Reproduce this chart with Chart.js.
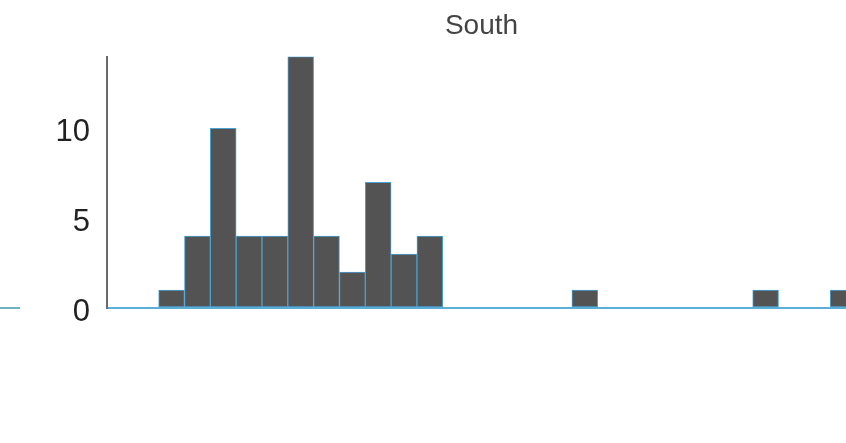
<!DOCTYPE html>
<html lang="en">

<head>
  <meta charset="UTF-8" />
  <title>South histogram</title>
  <script src="https://cdn.jsdelivr.net/npm/chart.js"></script>
  <style>
    html, body { margin: 0; padding: 0; background: #fff; overflow: hidden; }
    .frame { position: relative; width: 846px; height: 443px; overflow: hidden; }
    /* baseline stub of the neighbouring panel */
    .stub { position: absolute; left: 0; top: 307px; width: 20px; height: 2px; background: #6ab4bf; }
  </style>
</head>

<body>
  <div class="frame">
    <canvas id="southChart" width="856" height="443"></canvas>
    <div class="stub"></div>
  </div>

  <script>
    // histogram bins (one per bar slot) and their counts
    const binLabels = ['0', '1', '2', '3', '4', '5', '6', '7', '8', '9', '10', '11', '12', '13', '14',
      '15', '16', '17', '18', '19', '20', '21', '22', '23', '24', '25', '26', '27', '28'];
    const southCounts = [0, 0, 1, 4, 10, 4, 4, 14, 4, 2, 7, 3, 4, 0, 0,
      0, 0, 0, 1, 0, 0, 0, 0, 0, 0, 1, 0, 0, 1];
    const yTicks = [0, 5, 10];
    const yMax = 14;

    const southChart = new Chart(document.getElementById('southChart'), {
      type: 'bar',
      data: {
        labels: binLabels,
        datasets: [
          {
            label: 'South',
            data: southCounts,
            backgroundColor: '#535353',
            borderColor: '#4aa2d2',
            borderWidth: 1,
            borderSkipped: false,
            barPercentage: 1,
            categoryPercentage: 1,
          },
        ],
      },
      options: {
        responsive: false,
        animation: false,
        layout: { padding: { left: 0, right: 0, top: 0, bottom: 135 } },
        plugins: {
          legend: { display: false },
          tooltip: { enabled: false },
          title: {
            display: true,
            text: 'South',
            fullSize: false, // centre over the plot area
            color: '#444',
            font: { family: 'Liberation Sans', size: 28, weight: 'normal' },
            padding: { top: 9, bottom: 14 },
          },
        },
        scales: {
          x: { display: false },
          y: {
            min: 0,
            max: yMax,
            afterBuildTicks: (scale) => {
              scale.ticks = yTicks.map(v => ({ value: v }));
            },
            afterFit: (scale) => { scale.width = 107; },
            border: { display: true, color: '#6a6a6a', width: 2 },
            grid: {
              drawTicks: false,
              lineWidth: 2,
              color: (ctx) => (ctx.tick && ctx.tick.value === 0 ? '#5aaed8' : 'rgba(0,0,0,0)'),
            },
            ticks: {
              color: '#222',
              padding: 17,
              labelOffset: 4,
              font: { family: 'Liberation Sans', size: 31 },
            },
          },
        },
      },
    });
  </script>
</body>

</html>
